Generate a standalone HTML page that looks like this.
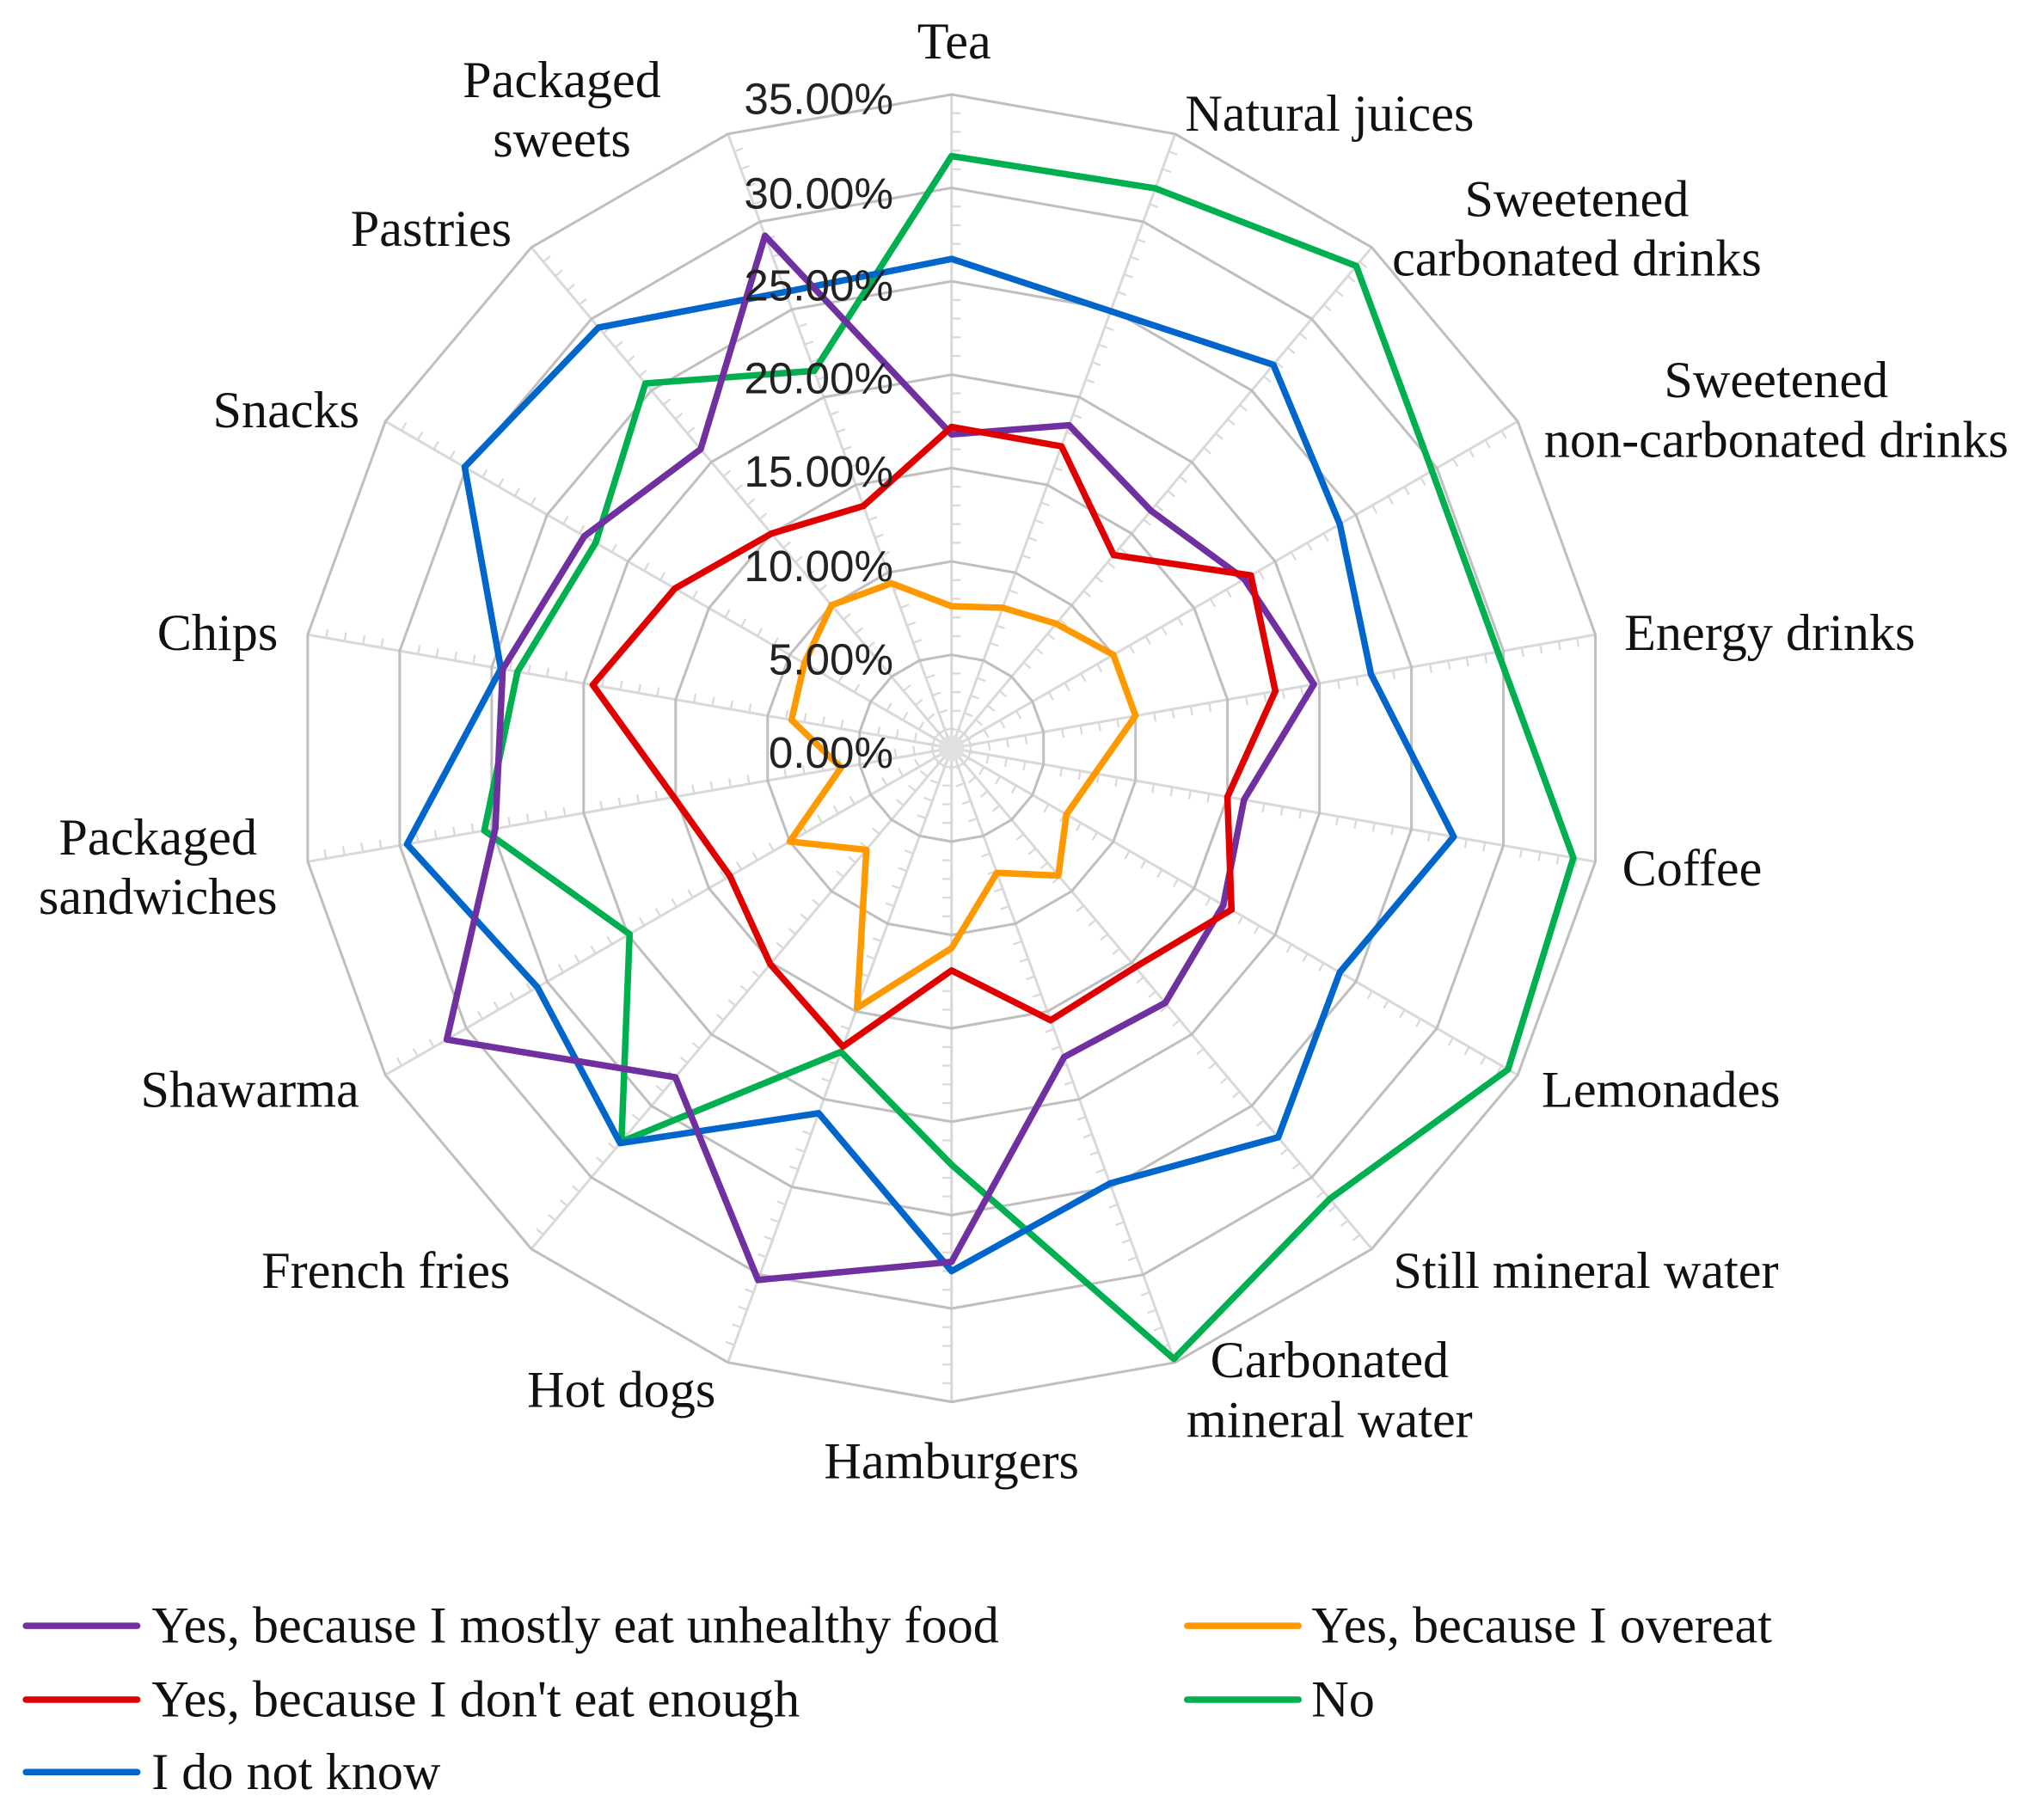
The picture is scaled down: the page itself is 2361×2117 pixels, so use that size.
<!DOCTYPE html>
<html><head><meta charset="utf-8"><style>
html,body{margin:0;padding:0;background:#fff;}
svg{display:block;}
.c{font-family:"Liberation Serif",serif;font-size:40px;fill:#111;}
.t{font-family:"Liberation Sans",sans-serif;font-size:34px;fill:#222;}
</style></head><body>
<svg id="s" width="2361" height="2117" viewBox="0 0 1568 1406" xmlns="http://www.w3.org/2000/svg">
<rect width="1568" height="1406" fill="#fff"/>
<g id="grid"></g>
<g id="ser" fill="none" stroke-width="5" stroke-linejoin="round"></g>
<g class="t" text-anchor="end">
<text x="690" y="88">35.00%</text><text x="690" y="161">30.00%</text><text x="690" y="232">25.00%</text><text x="690" y="304">20.00%</text><text x="690" y="376">15.00%</text><text x="690" y="449">10.00%</text><text x="690" y="521">5.00%</text><text x="690" y="593">0.00%</text>
</g>
<g class="c" text-anchor="middle">
<text x="737" y="45">Tea</text>
<text x="1027" y="101">Natural juices</text>
<text x="1218" y="167">Sweetened</text><text x="1218" y="213">carbonated drinks</text>
<text x="1372" y="307">Sweetened</text><text x="1372" y="353">non-carbonated drinks</text>
<text x="1367" y="502">Energy drinks</text>
<text x="1307" y="684">Coffee</text>
<text x="1283" y="855">Lemonades</text>
<text x="1225" y="995">Still mineral water</text>
<text x="1027" y="1064">Carbonated</text><text x="1027" y="1110">mineral water</text>
<text x="735" y="1142">Hamburgers</text>
<text x="480" y="1087">Hot dogs</text>
<text x="298" y="995">French fries</text>
<text x="193" y="855">Shawarma</text>
<text x="122" y="660">Packaged</text><text x="122" y="706">sandwiches</text>
<text x="168" y="502">Chips</text>
<text x="221" y="330">Snacks</text>
<text x="333" y="190">Pastries</text>
<text x="434" y="75">Packaged</text><text x="434" y="121">sweets</text>
</g>
<g stroke-width="5" stroke-linecap="round">
<line x1="20" y1="1256" x2="106" y2="1256" stroke="#7030a0"/>
<line x1="20" y1="1313" x2="106" y2="1313" stroke="#e00000"/>
<line x1="20" y1="1369" x2="106" y2="1369" stroke="#0066cc"/>
<line x1="917" y1="1256" x2="1003" y2="1256" stroke="#ff9900"/>
<line x1="917" y1="1313" x2="1003" y2="1313" stroke="#00b050"/>
</g>
<g class="c">
<text x="117" y="1269">Yes, because I mostly eat unhealthy food</text>
<text x="117" y="1326">Yes, because I don't eat enough</text>
<text x="117" y="1382">I do not know</text>
<text x="1013" y="1269">Yes, because I overeat</text>
<text x="1013" y="1326">No</text>
</g>
</svg>
<script>
var cx=735,cy=578,R=505,N=18;
function pt(v,i){var a=i*20*Math.PI/180,r=v/35*R;return [cx+r*Math.sin(a),cy-r*Math.cos(a)];}
var g=document.getElementById('grid'),h='';
for(var i=0;i<N;i++){var p=pt(35,i);h+='<line x1="'+cx+'" y1="'+cy+'" x2="'+p[0]+'" y2="'+p[1]+'" stroke="#d9d9d9" stroke-width="2"/>';
 var a=i*20*Math.PI/180,ux=Math.sin(a),uy=-Math.cos(a),px=Math.cos(a),py=Math.sin(a);
 for(var k=1;k<35;k++){if(k%5==0)continue;var r=k/35*R,x=cx+r*ux,y=cy+r*uy;h+='<line x1="'+x+'" y1="'+y+'" x2="'+(x+px*7)+'" y2="'+(y+py*7)+'" stroke="#d9d9d9" stroke-width="1.5"/>';}}
for(var v=5;v<=35;v+=5){var s='';for(var i=0;i<N;i++){var p=pt(v,i);s+=p[0]+','+p[1]+' ';}h+='<polygon points="'+s+'" fill="none" stroke="#bfbfbf" stroke-width="2"/>';}
h+='<circle cx="'+cx+'" cy="'+cy+'" r="10" fill="#e0e0e0"/>';
g.innerHTML=h;
var S=[
["#00b050",[31.7,31.9,33.7,29.7,29.7,33.8,34.4,31.5,34.8,22.3,17.3,27.5,19.9,25.4,23.6,22,25.5,21.5]],
["#0066cc",[26.2,24.9,26.8,24,22.8,27.3,24,27.2,24.8,28,20.8,27.6,25.6,29.6,24.5,30.1,29.4,26]],
["#7030a0",[16.8,18.4,16.6,18.1,19.7,15.9,16.8,17.8,17.6,27.5,30.3,23,31.2,24.8,24.4,22.7,20.9,29.2]],
["#e00000",[17.2,17.2,13.5,18.5,17.6,15,17.3,15.3,15.5,11.9,17,15.1,13.7,15.1,19.5,17.1,15,13.8]],
["#ff9900",[7.6,8,8.7,10,10,7.8,7.1,8.9,7.1,10.7,14.8,7.1,10,6,8.7,9.1,10,9.4]]];
var sh='';S.forEach(function(s){var q='';s[1].forEach(function(v,i){var p=pt(v,i);q+=p[0].toFixed(1)+','+p[1].toFixed(1)+' ';});sh+='<polygon points="'+q+'" stroke="'+s[0]+'"/>';});
document.getElementById('ser').innerHTML=sh;
</script>
</body></html>
